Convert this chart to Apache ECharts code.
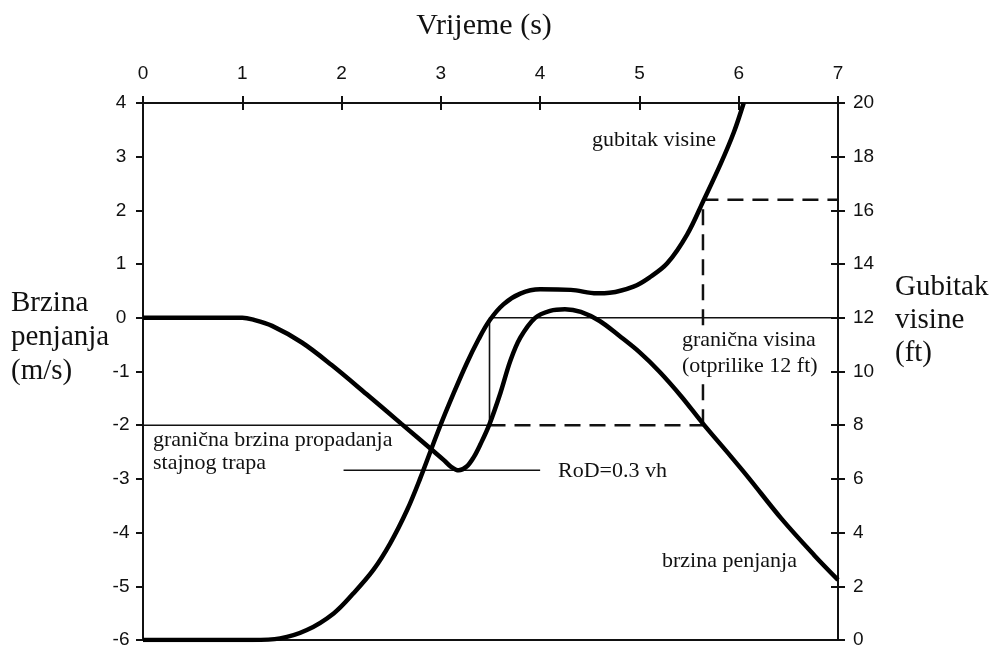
<!DOCTYPE html>
<html>
<head>
<meta charset="utf-8">
<script src="https://cdn.jsdelivr.net/npm/echarts@6/dist/echarts.min.js"></script>
<style>
html, body { margin: 0; padding: 0; background: #fff; }
#chart { width: 993px; height: 646px; }
</style>
</head>
<body>
<div id="chart"></div>
<script>
// brzina penjanja (m/s) po vremenu (s)
var climbRate = [
	[0, 0], [0.5, 0], [1.0, 0], [1.1, -0.03], [1.3, -0.15], [1.6, -0.46], [1.9, -0.88],
	[2.25, -1.42], [2.6, -1.97], [2.93, -2.49], [3.03, -2.65], [3.1, -2.77], [3.18, -2.84],
	[3.26, -2.77], [3.33, -2.6], [3.4, -2.35], [3.49, -1.98], [3.6, -1.4], [3.7, -0.8],
	[3.8, -0.37], [3.95, 0.0], [4.1, 0.13], [4.25, 0.16], [4.41, 0.11], [4.6, -0.06],
	[4.8, -0.34], [5.0, -0.64], [5.2, -1.0], [5.42, -1.46], [5.64, -1.97], [5.92, -2.58],
	[6.1, -2.98], [6.43, -3.74], [6.76, -4.42], [7.0, -4.88]
];
// gubitak visine (ft) po vremenu (s)
var heightLoss = [
	[0, 0], [0.5, 0], [1.1, 0], [1.38, 0.06], [1.65, 0.37], [1.92, 0.99], [2.12, 1.74],
	[2.32, 2.61], [2.49, 3.6], [2.66, 4.84], [2.79, 6.0], [2.98, 7.85], [3.13, 9.2],
	[3.26, 10.3], [3.38, 11.2], [3.49, 11.9], [3.63, 12.5], [3.8, 12.9], [4.0, 13.06],
	[4.31, 13.04], [4.57, 12.91], [4.7, 12.93], [4.94, 13.16], [5.1, 13.5], [5.28, 14.03],
	[5.48, 15.1], [5.65, 16.4], [5.82, 17.75], [5.95, 18.9], [6.05, 20]
];
// pomoćne linije (m/s na lijevoj osi, ft na desnoj)
var limitRateSolid = [[0, -2], [3.49, -2]];
var limitRateDashed = [[3.49, -2], [5.64, -2]];
var limitHeightStep = [[3.49, -2], [3.49, 0], [7, 0]];
var checkDashedFt = [[5.64, 8], [5.64, 16.4], [7, 16.4]];
var rodLine = [[2.02, -2.84], [4.0, -2.84]];

var serif = '"Liberation Serif", "Times New Roman", serif';
var sans = '"Liberation Sans", Arial, sans-serif';
var ink = '#111';

function txt(text, x, y, size, align, bg) {
	return {
		type: 'text',
		z: 100,
		style: {
			text: text,
			x: x,
			y: y,
			font: size + 'px ' + serif,
			fill: ink,
			align: align || 'left',
			verticalAlign: 'middle',
			backgroundColor: bg ? '#fff' : 'transparent',
			padding: bg ? [1, 2] : 0
		}
	};
}

function thin(data, yIdx, dashed) {
	return {
		type: 'line',
		xAxisIndex: 0,
		yAxisIndex: yIdx,
		data: data,
		showSymbol: false,
		silent: true,
		z: 2,
		lineStyle: {
			color: ink,
			width: dashed ? 2.5 : 1.6,
			type: dashed ? [16, 9] : 'solid'
		}
	};
}

var gridBox = { left: 143, right: 155, top: 103, bottom: 6, outerBoundsMode: 'none', containLabel: false };
var tickStyle = { color: ink, width: 2 };

var chart = echarts.init(document.getElementById('chart'));
chart.setOption({
	animation: false,
	backgroundColor: '#fff',
	// second grid only carries the inner halves of the crossing ticks
	grid: [gridBox, gridBox],
	xAxis: [
		{
			gridIndex: 0, type: 'value', position: 'top', min: 0, max: 7, interval: 1,
			splitLine: { show: false },
			axisLine: { onZero: false, lineStyle: { color: ink, width: 2 } },
			axisTick: { length: 7, lineStyle: tickStyle },
			axisLabel: { color: ink, fontFamily: sans, fontSize: 19, margin: 20 }
		},
		{
			gridIndex: 0, type: 'value', position: 'bottom', min: 0, max: 7,
			splitLine: { show: false },
			axisLine: { onZero: false, lineStyle: { color: ink, width: 2 } },
			axisTick: { show: false },
			axisLabel: { show: false }
		},
		{
			gridIndex: 1, type: 'value', position: 'top', min: 0, max: 7, interval: 1,
			splitLine: { show: false },
			axisLine: { show: false, onZero: false },
			axisTick: { inside: true, length: 7, lineStyle: tickStyle },
			axisLabel: { show: false }
		}
	],
	yAxis: [
		{
			gridIndex: 0, type: 'value', position: 'left', min: -6, max: 4, interval: 1,
			splitLine: { show: false },
			axisLine: { show: true, onZero: false, lineStyle: { color: ink, width: 2 } },
			axisTick: { show: true, length: 7, lineStyle: tickStyle },
			axisLabel: { color: ink, fontFamily: sans, fontSize: 19, margin: 22, align: 'center' }
		},
		{
			gridIndex: 0, type: 'value', position: 'right', min: 0, max: 20, interval: 2,
			splitLine: { show: false },
			axisLine: { show: true, onZero: false, lineStyle: { color: ink, width: 2 } },
			axisTick: { show: true, length: 7, lineStyle: tickStyle },
			axisLabel: { color: ink, fontFamily: sans, fontSize: 19, margin: 15 }
		},
		{
			gridIndex: 1, type: 'value', position: 'right', min: 0, max: 20, interval: 2,
			splitLine: { show: false },
			axisLine: { show: false, onZero: false },
			axisTick: { show: true, inside: true, length: 7, lineStyle: tickStyle },
			axisLabel: { show: false }
		}
	],
	series: [
		thin(limitRateSolid, 0, false),
		thin(limitRateDashed, 0, true),
		thin(limitHeightStep, 0, false),
		thin(checkDashedFt, 1, true),
		thin(rodLine, 0, false),
		{
			name: 'brzina penjanja',
			type: 'line',
			xAxisIndex: 0,
			yAxisIndex: 0,
			data: climbRate,
			smooth: 0.35,
			showSymbol: false,
			z: 5,
			lineStyle: { color: '#000', width: 4.5 }
		},
		{
			name: 'gubitak visine',
			type: 'line',
			xAxisIndex: 0,
			yAxisIndex: 1,
			data: heightLoss,
			smooth: 0.35,
			showSymbol: false,
			z: 5,
			lineStyle: { color: '#000', width: 4.5 }
		}
	],
	graphic: [
		txt('Vrijeme (s)', 484, 26, 30, 'center'),
		txt('Brzina', 11, 303, 29),
		txt('penjanja', 11, 337, 29),
		txt('(m/s)', 11, 371, 29),
		txt('Gubitak', 895, 287, 29),
		txt('visine', 895, 320, 29),
		txt('(ft)', 895, 353, 29),
		txt('gubitak visine', 590, 140, 22, 'left', true),
		txt('granična visina', 680, 340, 22, 'left', true),
		txt('(otprilike 12 ft)', 680, 366, 22, 'left', true),
		txt('granična brzina propadanja', 151, 440, 22, 'left', true),
		txt('stajnog trapa', 151, 463, 22, 'left', true),
		txt('RoD=0.3 vh', 556, 471, 22, 'left', true),
		txt('brzina penjanja', 660, 561, 22, 'left', true)
	]
});
</script>
</body>
</html>
